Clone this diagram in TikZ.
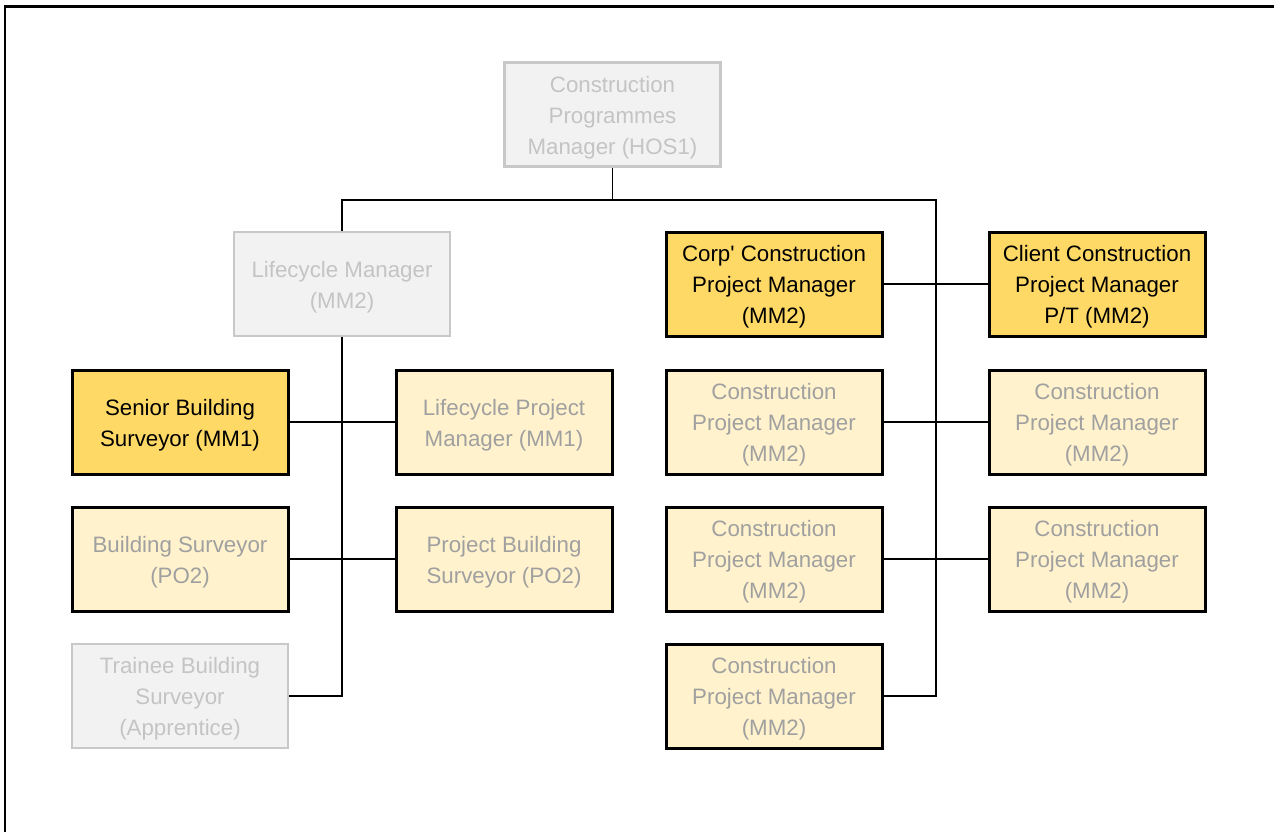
\documentclass[tikz,border=0pt]{standalone}
\usepackage{fontspec}
\setmainfont{Liberation Sans}
\definecolor{gold}{HTML}{FFD966}
\definecolor{pale}{HTML}{FFF2CC}
\definecolor{greyfill}{HTML}{F2F2F2}
\definecolor{greyline}{HTML}{C8C8C8}
\definecolor{greytext}{HTML}{C4C4C4}
\definecolor{paletext}{HTML}{A0A0A0}
\tikzset{
  x=1pt,y=-1pt,
  box/.style={rectangle, minimum width=216pt, minimum height=104pt, inner sep=0pt},
  txt/.style={align=center, inner sep=0pt, font=\fontsize{22.3}{31}\selectfont},
  keybox/.style={box, fill=gold, draw=black, line width=3pt},
  palebox/.style={box, fill=pale, draw=black, line width=3pt},
  greybox/.style={box, fill=greyfill, draw=greyline, line width=2.2pt},
  keytext/.style={txt, text=black},
  paletext/.style={txt, text=paletext},
  greytext/.style={txt, text=greytext},
  link/.style={draw=black, line width=1.5pt}
}
\newcommand{\orgbox}[6]{%
  \node[#1box] (#3) at (#4,#5) {};
  \node[#2text] (#3t) at ([yshift=-3pt]#3.center) {#6};
}
\begin{document}
\begin{tikzpicture}
\useasboundingbox (0,0) rectangle (1274,832);
\fill[white] (0,0) rectangle (1274,832);
\draw[line width=2.2pt] (5,840) -- (5,6.5) -- (1280,6.5);

\orgbox{grey}{grey}{top}{612.5}{114.5}{Construction\\Programmes\\Manager (HOS1)}
\orgbox{grey}{grey}{lm}{342}{284}{Lifecycle Manager\\(MM2)}
\orgbox{key}{key}{corp}{774}{284}{Corp\textquotesingle{} Construction\\Project Manager\\(MM2)}
\orgbox{key}{key}{client}{1097}{284}{Client Construction\\Project Manager\\P/T (MM2)}
\orgbox{key}{key}{senior}{180}{422}{Senior Building\\Surveyor (MM1)}
\orgbox{pale}{pale}{lpm}{504}{422}{Lifecycle Project\\Manager (MM1)}
\orgbox{pale}{pale}{cpma}{774}{422}{Construction\\Project Manager\\(MM2)}
\orgbox{pale}{pale}{cpmb}{1097}{422}{Construction\\Project Manager\\(MM2)}
\orgbox{pale}{pale}{bs}{180}{559}{Building Surveyor\\(PO2)}
\orgbox{pale}{pale}{pbs}{504}{559}{Project Building\\Surveyor (PO2)}
\orgbox{pale}{pale}{cpmc}{774}{559}{Construction\\Project Manager\\(MM2)}
\orgbox{pale}{pale}{cpmd}{1097}{559}{Construction\\Project Manager\\(MM2)}
\orgbox{grey}{grey}{trainee}{180}{696}{Trainee Building\\Surveyor\\(Apprentice)}
\orgbox{pale}{pale}{cpme}{774}{696}{Construction\\Project Manager\\(MM2)}

\coordinate (rs) at (936,200);
\draw[link] (top.south) -- (top.south |- rs);
\draw[link] (lm.north) |- (rs) |- (cpme.east);
\draw[link] (lm.south) |- (trainee.east);
\draw[link] (senior.east) -- (lpm.west);
\draw[link] (bs.east) -- (pbs.west);
\draw[link] (corp.east) -- (client.west);
\draw[link] (cpma.east) -- (cpmb.west);
\draw[link] (cpmc.east) -- (cpmd.west);
\end{tikzpicture}
\end{document}
